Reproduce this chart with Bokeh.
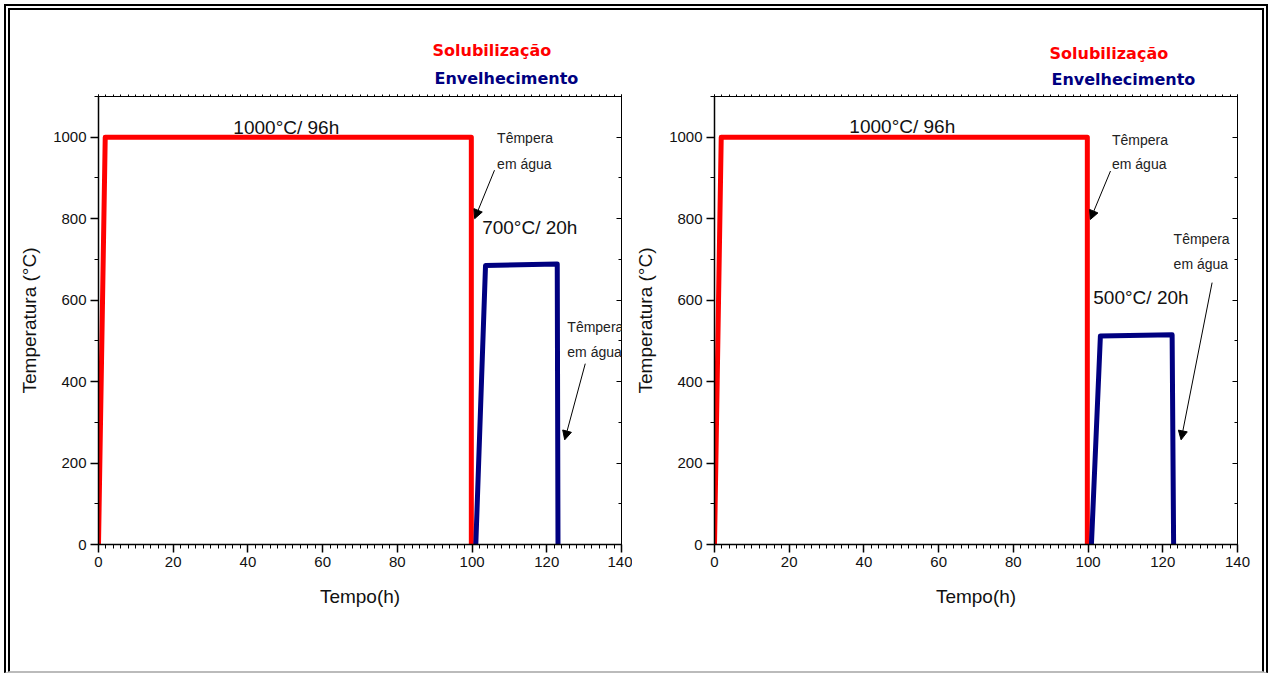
from bokeh.plotting import figure
from bokeh.layouts import row
from bokeh.models import Label, Arrow, NormalHead, LinearAxis, Range1d, FixedTicker, Title
from bokeh.embed import file_html
from bokeh.resources import INLINE

# ---- data ----
x_ticks = [0, 20, 40, 60, 80, 100, 120, 140]
y_ticks = [0, 200, 400, 600, 800, 1000]

# Solubilização (both panels)
sol_x = [0, 1.8, 99.8, 99.8]
sol_y = [0, 1000, 1000, 0]

# Envelhecimento 700 °C / 20 h (left panel)
env700_x = [101.0, 103.6, 122.8, 123.0]
env700_y = [0, 685, 689, 0]

# Envelhecimento 500 °C / 20 h (right panel)
env500_x = [100.9, 103.3, 122.5, 122.9]
env500_y = [0, 512, 515, 0]

legend_labels = ["Solubilização", "Envelhecimento"]
sol_label = "1000°C/ 96h"
env_labels = ["700°C/ 20h", "500°C/ 20h"]
quench_lines = ["Têmpera", "em água"]

RED = "#FF0000"
NAVY = "#000080"
FONT = "Liberation Sans"


def make_panel(env_x, env_y, env_label, lb, rb, width, ann):
    p = figure(width=width, height=661, x_range=Range1d(0, 140), y_range=Range1d(0, 1100),
               output_backend="svg", toolbar_location=None,
               min_border_left=lb, min_border_right=rb, min_border_top=86, min_border_bottom=127)
    p.xgrid.visible = False
    p.ygrid.visible = False
    p.outline_line_color = "black"
    p.outline_line_width = 1
    p.background_fill_color = "white"
    p.border_fill_color = "white"

    xt = FixedTicker(ticks=x_ticks, minor_ticks=list(range(0, 141, 2)))
    yt = FixedTicker(ticks=y_ticks, minor_ticks=list(range(0, 1101, 100)))

    for ax, t in ((p.xaxis[0], xt), (p.yaxis[0], yt)):
        ax.ticker = t
        ax.axis_line_color = "black"
        ax.axis_line_width = 1.5
        ax.major_tick_line_color = "black"
        ax.minor_tick_line_color = "black"
        ax.major_tick_line_width = 1.5
        ax.major_tick_out = 8
        ax.major_tick_in = 0
        ax.minor_tick_out = 4
        ax.minor_tick_in = 0
        ax.major_label_text_font = FONT
        ax.major_label_text_font_size = "15px"
        ax.major_label_text_color = "#111111"
        ax.major_label_standoff = 4
        ax.axis_label_text_font = FONT
        ax.axis_label_text_font_size = "19px"
        ax.axis_label_text_font_style = "normal"
        ax.axis_label_text_color = "#111111"
    p.xaxis[0].axis_label = "Tempo(h)"
    p.xaxis[0].axis_label_standoff = 16
    p.yaxis[0].axis_label = "Temperatura (°C)"
    p.yaxis[0].axis_label_standoff = 10

    top = LinearAxis(ticker=xt, major_label_text_font_size="1px", major_label_text_alpha=0,
                     major_label_standoff=0, major_tick_out=2, major_tick_in=0,
                     minor_tick_out=2, minor_tick_in=0, axis_line_color="black")
    right = LinearAxis(ticker=yt, major_label_text_font_size="1px", major_label_text_alpha=0,
                       major_label_standoff=0, major_tick_out=0, major_tick_in=5,
                       minor_tick_out=0, minor_tick_in=3, axis_line_color="black")
    p.add_layout(top, "above")
    p.add_layout(right, "right")

    # coloured series titles above the frame (first added = nearest the frame)
    p.add_layout(Title(text=legend_labels[1], text_color=NAVY, text_font="DejaVu Sans",
                       text_font_style="bold", text_font_size="16px", align="left",
                       offset=ann["leg"][1], standoff=ann["leg"][3]), "above")
    p.add_layout(Title(text=legend_labels[0], text_color=RED, text_font="DejaVu Sans",
                       text_font_style="bold", text_font_size="16px", align="left",
                       offset=ann["leg"][0], standoff=ann["leg"][2]), "above")

    p.line(sol_x, sol_y, line_color=RED, line_width=5, line_join="round", line_cap="round")
    p.line(env_x, env_y, line_color=NAVY, line_width=5, line_join="round", line_cap="round")

    # step labels
    p.add_layout(Label(x=36.1, y=ann["sol_y"], text=sol_label, text_font=FONT,
                       text_font_size="19px", text_baseline="middle", text_color="#111111"))
    p.add_layout(Label(x=ann["env"][0], y=ann["env"][1], text=env_label, text_font=FONT,
                       text_font_size="19px", text_baseline="middle", text_color="#111111"))

    # quench annotations
    for (tx, ty1, ty2, ax0, ay0, ax1, ay1) in ann["q"]:
        p.add_layout(Label(x=tx, y=ty1, text=quench_lines[0], text_font=FONT,
                           text_font_size="14px", text_baseline="middle", text_color="#222222"))
        p.add_layout(Label(x=tx, y=ty2, text=quench_lines[1], text_font=FONT,
                           text_font_size="14px", text_baseline="middle", text_color="#222222"))
        p.add_layout(Arrow(end=NormalHead(size=9, fill_color="black", line_color="black", line_width=1),
                           x_start=ax0, y_start=ay0, x_end=ax1, y_end=ay1,
                           line_color="black", line_width=1))
    return p


ann_left = dict(leg=(334, 336, 0, 14), sol_y=1024, env=(102.7, 778),
                q=[(106.7, 997, 935, 106.0, 919, 100.7, 800),
                   (125.5, 534, 472, 130.3, 444, 124.8, 257)])
ann_right = dict(leg=(335, 337, 0, 11), sol_y=1027, env=(101.4, 607),
                 q=[(106.4, 993, 934, 106.0, 917, 100.6, 798),
                    (122.9, 749, 688, 133.2, 643, 124.9, 257)])

p1 = make_panel(env700_x, env700_y, env_labels[0], 88, 11, 622, ann_left)
p2 = make_panel(env500_x, env500_y, env_labels[1], 82, 25, 630, ann_right)

layout = row(p1, p2, styles={"border-top": "6px double black", "border-left": "6px double black",
                             "border-right": "6px double black", "border-bottom": "2px solid #bbbbbb",
                             "margin-left": "4px", "margin-top": "4px", "background": "white"})

open("out.html", "w").write(file_html(layout, INLINE))
